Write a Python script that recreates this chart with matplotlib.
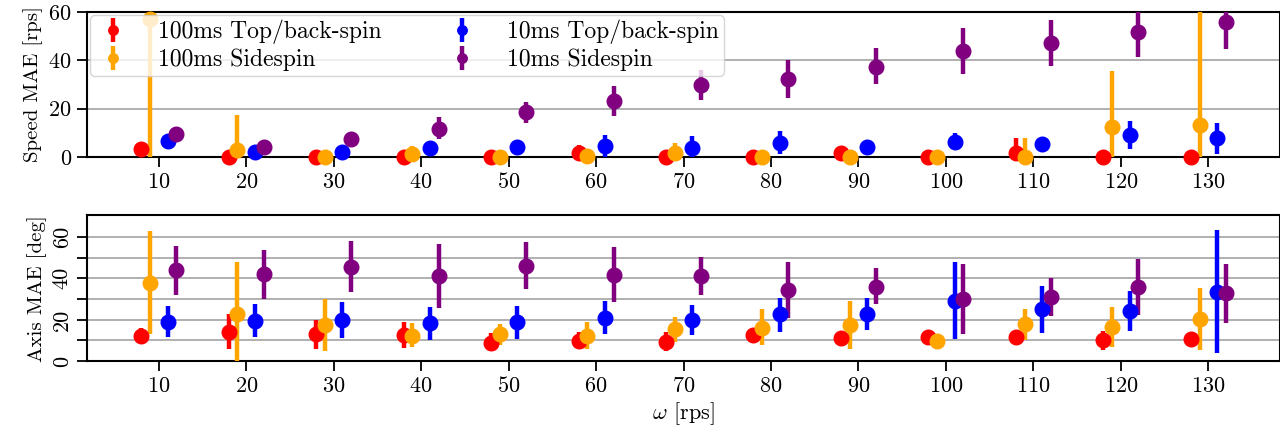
import matplotlib
matplotlib.use("Agg")
import matplotlib.pyplot as plt
import numpy as np

plt.rcParams['font.family'] = 'serif'
plt.rcParams['font.serif'] = ['cmr10']
plt.rcParams['mathtext.fontset'] = 'cm'
plt.rcParams['axes.formatter.use_mathtext'] = True
plt.rcParams['font.size'] = 16

omega = [10, 20, 30, 40, 50, 60, 70, 80, 90, 100, 110, 120, 130]
labels = ["100ms Top/back-spin", "100ms Sidespin", "10ms Top/back-spin", "10ms Sidespin"]
colors = ["red", "orange", "blue", "purple"]
offsets = [-2, -1, 1, 2]

# Speed MAE [rps]: mean, lower bound, upper bound
speed_red = [3.3, 0, 0, 0, 0, 1.5, 0, 0, 1.5, 0, 1.7, 0, 0]
speed_red_lo = [2.5, 0, 0, 0, 0, 0, 0, 0, 0, 0, 0, 0, 0]
speed_red_hi = [4.5, 1, 1, 1, 1, 5.0, 1, 1, 4.0, 1, 8.0, 1, 1]

speed_orange = [57, 3.0, 0, 1.0, 0, 0.5, 1.7, 0, 0, 0, 0, 12.2, 13.3]
speed_orange_lo = [0, 0, 0, 0, 0, 0, 0, 0, 0, 0, 0, 0, 0]
speed_orange_hi = [75, 17.5, 1, 4.6, 1, 1, 5.8, 1, 1, 1, 8.0, 35.5, 75]

speed_blue = [6.4, 2.0, 2.2, 3.7, 4.0, 4.3, 3.6, 5.7, 3.9, 6.1, 5.4, 9.0, 7.8]
speed_blue_lo = [5.5, 1.0, 1.2, 2.7, 0.8, 0.0, 0.0, 1.3, 3.0, 3.3, 4.5, 3.3, 1.2]
speed_blue_hi = [7.5, 3.0, 3.2, 4.7, 7.0, 8.9, 8.8, 10.6, 4.9, 9.8, 6.4, 14.7, 14.1]

speed_purple = [9.6, 4.0, 7.5, 11.7, 18.5, 23.0, 29.6, 32.1, 37.2, 43.9, 47.1, 51.8, 56.1]
speed_purple_lo = [8.6, 3.0, 6.5, 7.4, 14.0, 17.1, 23.5, 24.2, 30.0, 34.5, 37.6, 41.3, 44.6]
speed_purple_hi = [10.6, 5.0, 8.5, 16.4, 22.8, 29.3, 36.0, 40.1, 45.0, 53.6, 56.7, 62.0, 62.0]

# Axis MAE [deg]: mean, lower bound, upper bound
axis_red = [12.1, 14.2, 12.9, 12.6, 9.0, 9.8, 9.3, 12.6, 11.0, 11.7, 11.7, 10.1, 10.6]
axis_red_lo = [8.5, 5.8, 6.1, 6.4, 5.3, 6.1, 5.0, 11.5, 10.0, 10.7, 10.7, 5.6, 9.6]
axis_red_hi = [15.8, 23.0, 19.8, 18.7, 13.4, 14.2, 14.2, 13.6, 12.0, 12.7, 12.7, 14.6, 11.6]

axis_orange = [37.5, 23.0, 17.4, 12.2, 12.9, 12.2, 15.3, 16.1, 17.4, 9.8, 17.9, 16.6, 20.3]
axis_orange_lo = [12.9, 0.0, 5.0, 6.9, 7.7, 5.8, 9.3, 7.7, 5.8, 8.8, 10.1, 6.9, 5.3]
axis_orange_hi = [62.8, 48.0, 29.8, 18.2, 17.9, 18.7, 21.4, 25.0, 29.1, 10.8, 25.1, 26.2, 35.4]

axis_blue = [19.0, 19.5, 20.1, 18.5, 18.7, 20.9, 19.7, 22.6, 22.7, 29.1, 25.0, 24.3, 33.5]
axis_blue_lo = [11.7, 11.7, 11.4, 10.1, 10.5, 12.9, 12.6, 14.2, 15.0, 10.5, 13.4, 14.5, 4.0]
axis_blue_hi = [26.6, 27.5, 28.7, 26.2, 26.6, 29.0, 27.0, 30.6, 30.3, 48.0, 36.1, 33.8, 63.3]

axis_purple = [44.0, 42.0, 45.6, 41.1, 46.0, 41.5, 41.1, 34.3, 35.9, 30.0, 31.1, 35.9, 32.7]
axis_purple_lo = [31.9, 30.0, 33.2, 25.5, 34.8, 28.4, 31.9, 20.9, 27.5, 12.9, 21.9, 22.2, 18.5]
axis_purple_hi = [55.7, 53.6, 58.1, 56.5, 57.3, 54.9, 50.1, 48.0, 44.8, 46.9, 40.3, 49.3, 46.7]

speed_sets = [(speed_red, speed_red_lo, speed_red_hi),
              (speed_orange, speed_orange_lo, speed_orange_hi),
              (speed_blue, speed_blue_lo, speed_blue_hi),
              (speed_purple, speed_purple_lo, speed_purple_hi)]
axis_sets = [(axis_red, axis_red_lo, axis_red_hi),
             (axis_orange, axis_orange_lo, axis_orange_hi),
             (axis_blue, axis_blue_lo, axis_blue_hi),
             (axis_purple, axis_purple_lo, axis_purple_hi)]

fig = plt.figure(figsize=(12.8, 4.32), dpi=100)
ax1 = fig.add_axes([0.068, 0.637, 0.932, 0.335])
ax2 = fig.add_axes([0.068, 0.164, 0.932, 0.338])

x = np.array(omega, dtype=float)

def draw(ax, sets, with_labels):
    for (m, lo, hi), c, off, lab in zip(sets, colors, offsets, labels):
        m = np.array(m, float)
        lo = np.array(lo, float)
        hi = np.array(hi, float)
        yerr = np.vstack([m - lo, hi - m])
        cont = ax.errorbar(x + off, m, yerr=yerr, fmt='o', color=c, ms=10.5,
                           elinewidth=3.2, capsize=0,
                           label=lab if with_labels else None, zorder=3)
        cont[0].set_clip_on(False)

draw(ax1, speed_sets, True)
draw(ax2, axis_sets, False)

for ax in (ax1, ax2):
    ax.set_xlim(1.8, 138.2)
    ax.set_xticks(omega)
    ax.tick_params(axis='both', direction='out', length=7, width=1.3, pad=4)
    for s in ax.spines.values():
        s.set_linewidth(1.5)
    ax.grid(axis='y', color='#b0b0b0', linewidth=1.4, zorder=0)
    ax.set_axisbelow(True)

ax1.set_ylim(0, 60)
ax1.set_yticks([0, 20, 40, 60])
ax1.set_ylabel("Speed MAE [rps]", labelpad=4, fontsize=15)

ax2.set_ylim(0, 70.5)
ax2.set_yticks([0, 10, 20, 30, 40, 50, 60])
ax2.set_yticklabels(["0", "", "20", "", "40", "", "60"], rotation=90, va='center')
ax2.set_ylabel("Axis MAE [deg]", labelpad=4, fontsize=15)
ax2.set_xlabel(r"$\omega$ [rps]", labelpad=3)

ax1.legend(loc='upper left', ncol=2, columnspacing=2.6, handletextpad=1.1,
           borderaxespad=0.12, markerscale=0.65, labelspacing=0.2,
           handlelength=1.6, borderpad=0.2, fontsize=17)

fig.savefig("out.png", dpi=100)
